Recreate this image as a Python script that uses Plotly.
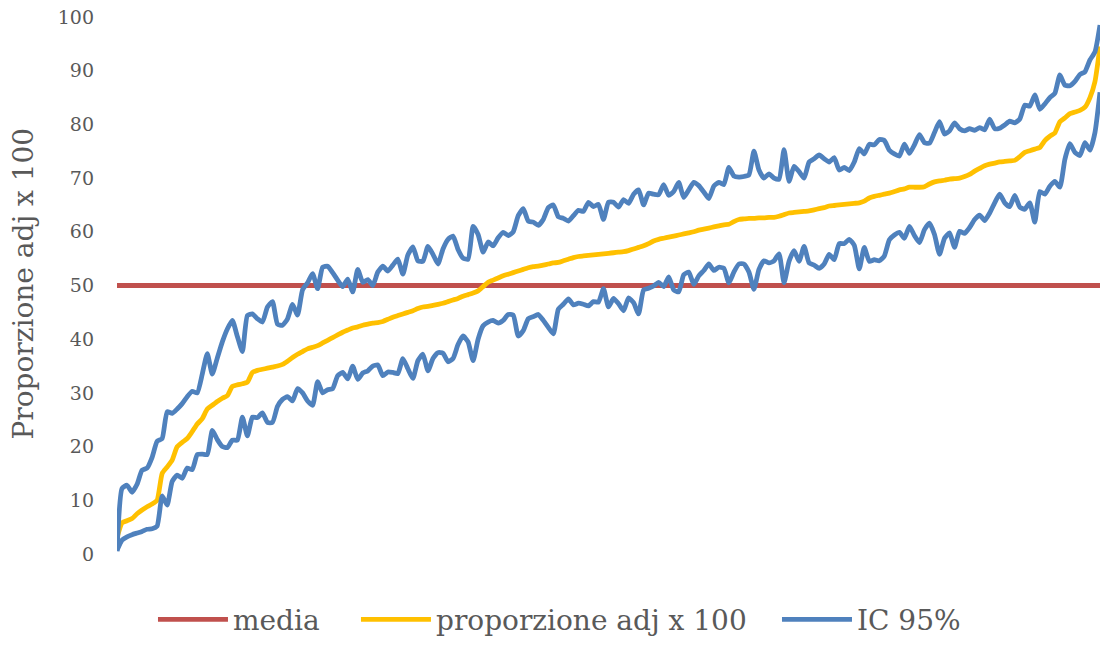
import plotly.graph_objects as go

# Observations sorted by adjusted proportion (rank index)
proporzione_adj = [
    3, 5.8, 6.2, 6.6, 7.5, 8.2, 8.8, 9.3, 10, 15,
    16.2, 17.5, 20, 20.8, 21.5, 22.8, 24.2, 25.2, 27, 27.7,
    28.4, 29, 29.5, 31.2, 31.5, 31.7, 32, 33.8, 34.2, 34.4,
    34.6, 34.8, 35, 35.3, 35.9, 36.6, 37.2, 37.7, 38.2, 38.5,
    38.8, 39.3, 39.8, 40.3, 40.8, 41.3, 41.7, 42.1, 42.3, 42.6,
    42.8, 43, 43.1, 43.3, 43.7, 44.1, 44.4, 44.7, 45, 45.3,
    45.7, 46, 46.1, 46.3, 46.5, 46.7, 47, 47.3, 47.6, 48,
    48.3, 48.6, 49, 49.8, 50.6, 51, 51.4, 51.8, 52.1, 52.4,
    52.7, 53, 53.3, 53.5, 53.6, 53.8, 54, 54.2, 54.3, 54.6,
    54.9, 55.2, 55.4, 55.5, 55.6, 55.7, 55.8, 55.9, 56, 56.1,
    56.2, 56.3, 56.5, 56.8, 57.1, 57.4, 57.8, 58.3, 58.6, 58.8,
    59, 59.2, 59.4, 59.6, 59.8, 60, 60.3, 60.5, 60.7, 60.9,
    61.1, 61.3, 61.4, 61.9, 62.3, 62.4, 62.5, 62.5, 62.6, 62.6,
    62.7, 62.7, 62.9, 63.2, 63.5, 63.6, 63.7, 63.8, 63.9, 64.1,
    64.3, 64.5, 64.8, 64.9, 65, 65.1, 65.2, 65.3, 65.4, 65.7,
    66.3, 66.6, 66.8, 67, 67.2, 67.5, 67.8, 68, 68.3, 68.3,
    68.3, 68.4, 68.9, 69.3, 69.5, 69.6, 69.8, 69.9, 70, 70.3,
    70.7, 71.3, 71.8, 72.3, 72.6, 72.8, 73, 73.1, 73.2, 73.3,
    74, 74.8, 75.1, 75.4, 75.7, 77, 77.8, 78.4, 80.5, 81.2,
    82, 82.3, 82.6, 83.2, 85, 88, 94.5,
]

ic_upper = [
    0.5, 12.2, 12.8, 11.5, 13, 15.6, 16, 18, 21, 21.5,
    26.5, 26.2, 27, 28, 29.3, 30.3, 30, 33.5, 37.3, 33.5,
    36.5, 39.5, 41.9, 43.5, 40.5, 37.7, 44.4, 44.7, 43.8, 43.2,
    46, 47, 42.8, 42.6, 43.8, 46.5, 44.5, 49.2, 50.5, 52.2,
    49.4, 53.4, 53.6, 52.4, 51, 49.8, 51.2, 48.8, 53, 50.6,
    51.1, 50, 52.5, 53.6, 52.7, 53.8, 54.9, 52.1, 55.7, 57.2,
    54.6, 54.5, 57.3, 55.8, 54, 56.8, 58.6, 59.2, 56.7, 55.1,
    54.9, 61, 59.5, 56.2, 58.1, 57.4, 58.9, 59.9, 59.3, 60,
    63, 64.3, 62, 61.8, 61.2, 62.3, 64.5, 65, 62.8, 62.5,
    62, 63, 64, 63.8, 65.5, 64.7, 65.1, 62.3, 65.5, 65.5,
    64.6, 66, 65.3, 67, 67.8, 65, 67.2, 67, 66.9, 68.8,
    66.8, 67.5, 69.2, 66.4, 67.8, 69.2, 68.6, 67.4, 66.2, 68.5,
    69.2, 68.8, 72, 70.4, 70.2, 70.3, 70.6, 75, 71.5, 70,
    70.8, 70, 69.8, 75.3, 69.4, 72.2, 71.2, 70, 73, 73.6,
    74.3, 73.6, 73, 73.8, 71.5, 72, 71.4, 73, 75.5, 74.5,
    76.3, 76.2, 77.2, 77, 75.2, 74.5, 74.1, 76.3, 74.6, 76.2,
    78.1, 76.6, 76.5, 78.5, 80.5, 78.2, 78.8, 80.3, 79.2, 78.8,
    79.2, 78.9, 79.4, 79, 81, 79.2, 79.3, 79.9, 80.6, 80.3,
    81, 83.6, 83.4, 85.5, 82.8, 83.8, 85, 85.8, 89.2, 87.3,
    87.2, 88, 89.3, 89.8, 92, 93.5, 98.5,
]

ic_lower = [
    0.7, 2.6, 3.2, 3.6, 3.9, 4.2, 4.6, 4.7, 5.2, 10.8,
    9.1, 13.5, 14.7, 14.1, 16, 15.7, 18.5, 18.6, 18.5, 23,
    21.3, 20, 19.8, 21.2, 21.2, 25.5, 22, 25.5, 25.4, 26.3,
    24.5, 24.5, 27.5, 28.8, 29.3, 28.5, 30.8, 30, 28.5, 27.7,
    32.1, 30, 30.6, 30.8, 33.2, 33.8, 32.6, 35, 32.5, 33.7,
    34.1, 35, 35.2, 33.2, 33.9, 33.8, 33.6, 36.4, 34.5, 32.7,
    36, 37.2, 34.1, 36.4, 37.5, 37.4, 35.8, 36.4, 39, 40.6,
    39.5, 36, 40, 42.5, 43.2, 43.5, 43, 43.5, 44.6, 44.5,
    40.6, 41.6, 43.8, 44.2, 44.6, 43.5, 42.2, 41, 45.6, 46.5,
    47.5, 46.4, 46.7, 46.5, 46.2, 47, 46.9, 49.4, 46, 47.6,
    46.6, 45.3, 47.7, 46.8, 44.7, 49.2, 49.5, 49.9, 50.6, 49.8,
    51.6, 49.2, 48.8, 52, 52.5, 50.2, 51.8, 52.8, 54, 52.8,
    53.4, 53.2, 50.5, 52.5, 54, 54, 52.5, 49.3, 53, 54.6,
    54.2, 54.6, 55.9, 50.5, 54.5, 56.5, 54.5, 57.3, 54.2, 53.8,
    53.2, 54, 55.8, 54.8, 57.8, 57.8, 58.6, 57.5, 53.1, 57.1,
    54.5, 54.8, 54.6, 55.5, 58.5, 59.4, 59.9, 58.8, 61, 59.3,
    58, 60.4, 61.6, 59.5, 55.8, 58.8, 59.8, 57.1, 60.1, 59.7,
    60.8, 62.3, 63.1, 62.1, 63.5, 65.4, 67, 65.4, 64.7, 66.8,
    64.6, 64.2, 65.4, 61.8, 67.5, 67, 68.5, 69.4, 68.3, 73.5,
    76.4, 74.8, 74.2, 76.6, 75.2, 78.5, 86,
]

rank = list(range(len(proporzione_adj)))
media_value = 50
media_x = [rank[0], rank[-1]]
media_y = [media_value, media_value]

y_ticks = [0, 10, 20, 30, 40, 50, 60, 70, 80, 90, 100]
y_title = "Proporzione adj x 100"

FONT = "DejaVu Serif, Liberation Serif, serif"
GREY = "#595959"
RED = "#C0504D"
YELLOW = "#FFC000"
BLUE = "#4F81BD"
LW = 4.8

fig = go.Figure()
fig.add_trace(go.Scatter(x=media_x, y=media_y, mode="lines", name="media",
                         legend="legend",
                         line=dict(color=RED, width=LW)))
fig.add_trace(go.Scatter(x=rank, y=proporzione_adj, mode="lines",
                         name="proporzione adj x 100", legend="legend2",
                         line=dict(color=YELLOW, width=LW, shape="spline", smoothing=0.5)))
fig.add_trace(go.Scatter(x=rank, y=ic_upper, mode="lines", name="IC 95%",
                         legend="legend3",
                         line=dict(color=BLUE, width=LW, shape="spline", smoothing=0.5)))
fig.add_trace(go.Scatter(x=rank, y=ic_lower, mode="lines", name="IC 95%",
                         showlegend=False,
                         line=dict(color=BLUE, width=LW, shape="spline", smoothing=0.5)))

legend_common = dict(orientation="h", xanchor="left", y=-0.1224, yanchor="middle",
                     font=dict(size=28, color=GREY, family=FONT), itemwidth=70,
                     bgcolor="rgba(0,0,0,0)")

fig.update_layout(
    width=1100, height=645,
    margin=dict(l=117, r=0, t=17, b=89),
    paper_bgcolor="white", plot_bgcolor="white",
    font=dict(family=FONT, color=GREY),
    showlegend=True,
    legend=dict(x=0.0366, **legend_common),
    legend2=dict(x=0.2431, **legend_common),
    legend3=dict(x=0.6714, **legend_common),
    xaxis=dict(range=[rank[0], rank[-1]], showticklabels=False, showgrid=False,
               zeroline=False, showline=False, ticks=""),
    yaxis=dict(range=[0, 100], tickvals=y_ticks, showgrid=False, zeroline=False,
               showline=False, ticks="", ticklabelstandoff=22, automargin=False,
               ticklabeloverflow="allow",
               tickfont=dict(size=19, color=GREY, family=FONT)),
    annotations=[dict(text=y_title, textangle=-90, showarrow=False,
                      xref="paper", yref="paper", x=-0.0946, y=0.5037,
                      xanchor="center", yanchor="middle",
                      font=dict(size=28, color=GREY, family=FONT))],
)

fig.write_html("out.html",
               config={"displayModeBar": False},
               post_script="document.body.style.margin='0';document.body.style.overflow='hidden';")
